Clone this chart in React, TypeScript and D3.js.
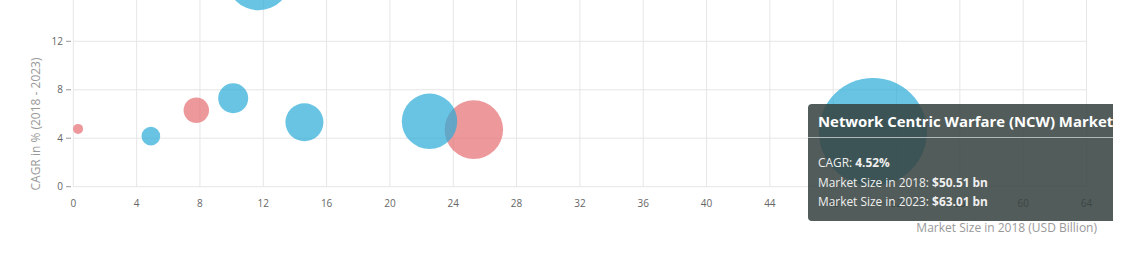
import React from "react";
import * as d3 from "d3";

const W = 1124;
const H = 268;

// Data
const names = [
  "Market 1", "Market 2", "Market 3", "Market 4", "Market 5",
  "Market 6", "Market 7", "Market 8", "Network Centric Warfare (NCW) Market",
];
const marketSize2018 = [0.3, 4.9, 7.77, 10.1, 11.7, 14.6, 22.5, 25.3, 50.51];
const cagr = [4.77, 4.17, 6.31, 7.3, 17.2, 5.32, 5.4, 4.71, 4.52];
const bubbleSize = [0.54, 1.87, 3.49, 4.86, 22.1, 7.8, 16.6, 18.5, 63.01];
const group = ["red", "blue", "red", "blue", "blue", "blue", "blue", "red", "blue"];
const xTicks = [0, 4, 8, 12, 16, 20, 24, 28, 32, 36, 40, 44, 48, 52, 56, 60, 64];
const yTicks = [0, 4, 8, 12, 16];

const tooltipIndex = 8;
const market2023 = 63.01;

const FONT = "'Open Sans', 'DejaVu Sans', sans-serif";

export default function App() {
  const x = d3.scaleLinear().domain([0, 64]).range([73.3, 1086.5]);
  const y = d3.scaleLinear().domain([0, 12]).range([186.7, 41.3]);
  const r = d3.scaleSqrt().domain([0, d3.max(bubbleSize) as number]).range([0, 54]);
  const colors: Record<string, string> = { blue: "#29abd9", red: "#e66e72" };

  const idx = d3.range(names.length);
  const order = [...idx.filter((i) => group[i] === "red"), ...idx.filter((i) => group[i] === "blue")];

  const tx = 808;
  const ty = 104;
  const ti = tooltipIndex;

  return (
    <svg
      width={W}
      height={H}
      style={{ position: "absolute", left: 0, top: 0, background: "#fff" }}
      fontFamily={FONT}
    >
      <defs>
        <clipPath id="chartClip">
          <rect x={0} y={0} width={1113} height={H} />
        </clipPath>
      </defs>
      <g>
        {xTicks.map((t) => (
          <line key={"gx" + t} x1={x(t)} x2={x(t)} y1={0} y2={y(0)} stroke="#e6e6e6" strokeWidth={1} />
        ))}
        {yTicks.map((t) => (
          <line key={"gy" + t} x1={x(0)} x2={x(64)} y1={y(t)} y2={y(t)} stroke="#e6e6e6" strokeWidth={1} />
        ))}
      </g>
      <g fontSize={10} fill="#666">
        {yTicks.map((t) => (
          <g key={"yl" + t}>
            <line x1={66} x2={71} y1={y(t)} y2={y(t)} stroke="#999" strokeWidth={1} />
            <text x={63} y={y(t) + 3.5} textAnchor="end">{t}</text>
          </g>
        ))}
      </g>
      <g fontSize={10} fill="#666">
        {xTicks.map((t) => (
          <text key={"xl" + t} x={x(t)} y={207} textAnchor="middle">{t}</text>
        ))}
      </g>
      <text
        transform={`translate(40,${124}) rotate(-90)`}
        textAnchor="middle"
        fontSize={12}
        fill="#999"
      >
        CAGR in % (2018 - 2023)
      </text>
      <text x={1097} y={232} textAnchor="end" fontSize={12} fill="#999">
        Market Size in 2018 (USD Billion)
      </text>
      <g>
        {order.map((i) => (
          <circle
            key={"b" + i}
            cx={x(marketSize2018[i])}
            cy={y(cagr[i])}
            r={r(bubbleSize[i])}
            fill={colors[group[i]]}
            fillOpacity={0.7}
          />
        ))}
      </g>
      <g clipPath="url(#chartClip)">
        <rect x={tx} y={ty} width={340} height={117} rx={4} fill="#36413f" fillOpacity={0.86} />
        <text x={tx + 10} y={ty + 23} fontSize={14.9} fontWeight="bold" fill="#fff">
          {names[ti]}
        </text>
        <line x1={tx} x2={tx + 340} y1={ty + 33.5} y2={ty + 33.5} stroke="#b0b8ba" strokeWidth={1} />
        <text x={tx + 10} y={ty + 63} fontSize={11.9} fill="#f0f0f0">
          CAGR: <tspan fontWeight="bold">{cagr[ti].toFixed(2)}%</tspan>
        </text>
        <text x={tx + 10} y={ty + 83} fontSize={11.9} fill="#f0f0f0">
          Market Size in 2018: <tspan fontWeight="bold">${marketSize2018[ti].toFixed(2)} bn</tspan>
        </text>
        <text x={tx + 10} y={ty + 101.5} fontSize={11.9} fill="#f0f0f0">
          Market Size in 2023: <tspan fontWeight="bold">${market2023.toFixed(2)} bn</tspan>
        </text>
      </g>
    </svg>
  );
}
